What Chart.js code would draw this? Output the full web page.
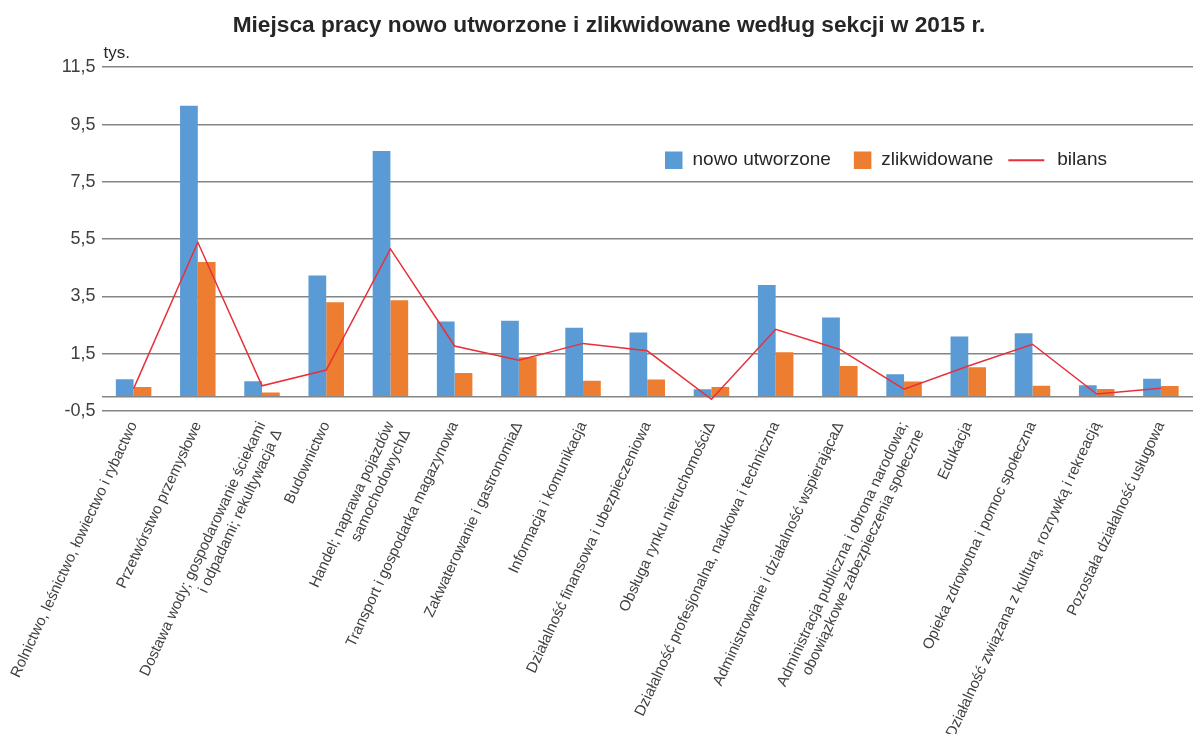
<!DOCTYPE html>
<html lang="pl">
<head>
<meta charset="utf-8">
<title>Miejsca pracy 2015</title>
<script src="https://cdn.jsdelivr.net/npm/chart.js@4.4.1/dist/chart.umd.min.js"></script>
<style>
html, body { margin: 0; padding: 0; background: #fff; }
#wrap { width: 1193px; height: 738px; position: relative; }
</style>
</head>
<body>
<div id="wrap"><canvas id="chart"></canvas></div>
<script>
// ---------------- DANE (tys.) ----------------
const sekcje = [
  "Rolnictwo, leśnictwo, łowiectwo i rybactwo",
  "Przetwórstwo przemysłowe",
  ["Dostawa wody; gospodarowanie ściekami", "i odpadami; rekultywacja Δ"],
  "Budownictwo",
  ["Handel; naprawa pojazdów", "samochodowychΔ"],
  "Transport i gospodarka magazynowa",
  "Zakwaterowanie i gastronomiaΔ",
  "Informacja i komunikacja",
  "Działalność finansowa i ubezpieczeniowa",
  "Obsługa rynku nieruchomościΔ",
  "Działalność profesjonalna, naukowa i techniczna",
  "Administrowanie i działalność wspierającaΔ",
  ["Administracja publiczna i obrona narodowa;", "obowiązkowe zabezpieczenia społeczne"],
  "Edukacja",
  "Opieka zdrowotna i pomoc społeczna",
  "Działalność związana z kulturą, rozrywką i rekreacją",
  "Pozostała działalność usługowa"
];

const nowoUtworzone = [0.61, 10.16, 0.54, 4.23, 8.58, 2.62, 2.65, 2.41, 2.24, 0.26, 3.90, 2.76, 0.78, 2.10, 2.21, 0.40, 0.63];
const zlikwidowane  = [0.34, 4.70, 0.15, 3.30, 3.37, 0.83, 1.38, 0.56, 0.60, 0.34, 1.55, 1.07, 0.53, 1.03, 0.38, 0.27, 0.37];
const bilans        = [0.28, 5.39, 0.38, 0.93, 5.16, 1.77, 1.27, 1.86, 1.60, -0.09, 2.35, 1.65, 0.26, 1.07, 1.83, 0.09, 0.29];

const osY = [-0.5, 0, 1.5, 3.5, 5.5, 7.5, 9.5, 11.5];

const FONT = '"Liberation Sans", Arial, sans-serif';

// ---------------- LEGENDA + "tys." ----------------
const legendaWykres = {
  id: 'legendaWykres',
  afterDraw(chart) {
    const { ctx, chartArea } = chart;
    ctx.save();
    ctx.textBaseline = 'middle';
    ctx.textAlign = 'left';
    ctx.fillStyle = '#262626';

    ctx.font = '17px ' + FONT;
    ctx.fillText('tys.', chartArea.left + 2, chartArea.top - 14);

    ctx.font = '19px ' + FONT;
    let x = 665;
    const y = chartArea.top + 93;
    chart.data.datasets.forEach(ds => {
      if (ds.type === 'line') {
        x -= 8;
        ctx.strokeStyle = ds.borderColor;
        ctx.lineWidth = 2;
        ctx.beginPath();
        ctx.moveTo(x, y);
        ctx.lineTo(x + 36, y);
        ctx.stroke();
        x += 49;
      } else {
        ctx.fillStyle = ds.backgroundColor;
        ctx.fillRect(x, y - 8.75, 17.5, 17.5);
        x += 27.5;
      }
      ctx.fillStyle = '#262626';
      ctx.fillText(ds.label, x, y);
      x += ctx.measureText(ds.label).width + 23;
    });
    ctx.restore();
  }
};

// ---------------- WYKRES ----------------
const chart = new Chart(document.getElementById('chart'), {
  data: {
    labels: sekcje,
    datasets: [
      { type: 'bar', label: 'nowo utworzone', data: nowoUtworzone, backgroundColor: '#5b9bd5',
        order: 1, categoryPercentage: 0.553, barPercentage: 1 },
      { type: 'bar', label: 'zlikwidowane', data: zlikwidowane, backgroundColor: '#ed7d31',
        order: 1, categoryPercentage: 0.553, barPercentage: 1 },
      { type: 'line', label: 'bilans', data: bilans, borderColor: '#e8303a', borderWidth: 1.5,
        pointRadius: 0, tension: 0, fill: false, order: 0 }
    ]
  },
  options: {
    responsive: true,
    maintainAspectRatio: false,
    animation: false,
    layout: { padding: { left: 20, right: -5, top: 0, bottom: 4 } },
    plugins: {
      legend: { display: false },
      tooltip: { enabled: false },
      title: {
        display: true,
        text: 'Miejsca pracy nowo utworzone i zlikwidowane według sekcji w 2015 r.',
        color: '#262626',
        font: { family: FONT, size: 22.7, weight: 'bold' },
        padding: { top: 12, bottom: 28 }
      }
    },
    scales: {
      x: {
        grid: { display: false, drawTicks: false },
        border: { display: false },
        afterFit: scale => { scale.height = 323; },
        ticks: {
          color: '#404040',
          font: { family: FONT, size: 15 },
          maxRotation: 65, minRotation: 65,
          autoSkip: false,
          padding: 8
        }
      },
      y: {
        min: -0.5,
        max: 11.5,
        afterBuildTicks: scale => { scale.ticks = osY.map(v => ({ value: v })); },
        afterFit: scale => { scale.width = 81.5; },
        grid: { color: '#858585', lineWidth: 1.5, drawTicks: false },
        border: { display: false },
        ticks: {
          color: '#404040',
          font: { family: FONT, size: 18 },
          padding: 6,
          callback: v => v === 0 ? '' : v.toFixed(1).replace('.', ',')
        }
      }
    }
  },
  plugins: [legendaWykres]
});
</script>
</body>
</html>
